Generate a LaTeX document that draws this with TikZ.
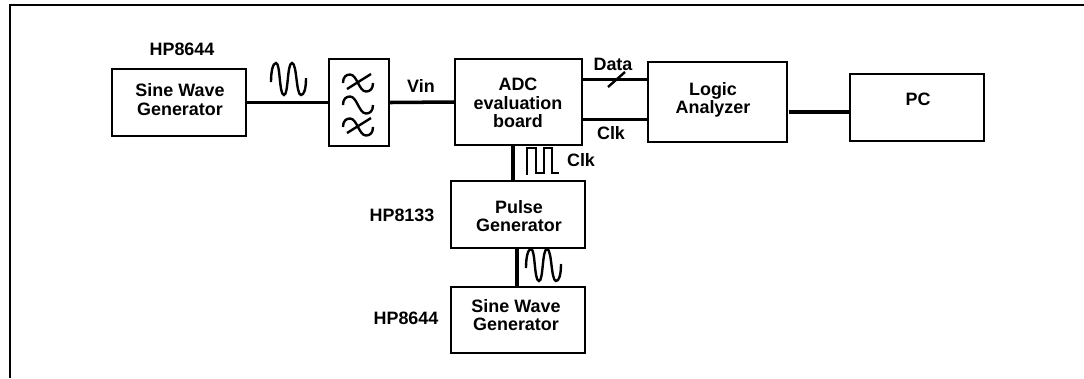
\documentclass[tikz,border=0pt]{standalone}
\usepackage{fontspec}
\setmainfont{Liberation Sans}
\tikzset{
    blockbox/.style 2 args={draw,line width=1.7pt,minimum width=#1*0.025cm,minimum height=#2*0.025cm,inner sep=0pt},
    blocktext/.style={align=center,inner sep=0pt,font=\fontsize{12.75}{13.1}\selectfont\bfseries},
    wirelink/.style={line width=2.5pt,shorten <=-1pt,shorten >=-1pt},
    thinsym/.style={line width=1.7pt},
    sinesym/.pic={
        \draw[thinsym] (0,1) .. controls (0,-10) and (2,-18) .. (5,-18) .. controls (9.5,-18) and (8,14) .. (13,14) .. controls (17.5,14) and (16,-18) .. (21,-18) .. controls (26,-18) and (25,14) .. (30,14) .. controls (33,14) and (35,8) .. (35,-3);
    },
    tildesym/.pic={
        \draw[thinsym] (-15,0) .. controls (-15,-6) and (-12,-8.5) .. (-8,-8.5) .. controls (-1,-8.5) and (1,8.5) .. (8,8.5) .. controls (12,8.5) and (15,6) .. (15,0);
    },
    notchsym/.pic={
        \pic {tildesym};
        \draw[thinsym] (-11,6) -- (13,-9);
    }
}
\begin{document}
\begin{tikzpicture}[x=0.025cm,y=-0.025cm]
    \useasboundingbox (0,0) rectangle (1084,378);
    \draw[line width=1.7pt] (10,378)--(10,5)--(1084,5);

    \node[blockbox={134}{67}] (sinea) at (179,102.5) {};
    \node[blockbox={60}{87}] (filterbox) at (359,102.5) {};
    \node[blockbox={127}{86}] (adc) at (518.5,102) {};
    \node[blockbox={139}{80}] (logic) at (717.5,102) {};
    \node[blockbox={134}{67}] (pc) at (917,107.5) {};
    \node[blockbox={134}{67}] (pulse) at (518,214.5) {};
    \node[blockbox={134}{66}] (sineb) at (518,320) {};

    \node[blocktext] (sineatext) at (180,99.5) {Sine Wave\\Generator};
    \node[blocktext] (adctext) at (518,103) {ADC\\evaluation\\board};
    \node[blocktext] (logictext) at (713,100) {Logic\\Analyzer};
    \node[blocktext] (pctext) at (918,99) {PC};
    \node[blocktext] (pulsetext) at (519,216) {Pulse\\Generator};
    \node[blocktext] (sinebtext) at (516,315) {Sine Wave\\Generator};
    \node[blocktext] (hpa) at (182,49) {HP8644};
    \node[blocktext] (hpb) at (402,215) {HP8133};
    \node[blocktext] (hpc) at (406,318) {HP8644};
    \node[blocktext] (vin) at (421,86) {Vin};
    \node[blocktext] (datatext) at (613,64) {Data};
    \node[blocktext] (clka) at (611,133) {Clk};
    \node[blocktext] (clkb) at (581,160) {Clk};

    \coordinate (datawire) at (615,79.5);
    \coordinate (clkwire) at (615,119.5);
    \coordinate (pcwire) at (790,112);
    \coordinate (pulsewire) at (513,165);
    \coordinate (sinewire) at (517,268);

    \draw[wirelink] (sinea.east)--(filterbox.west);
    \draw[wirelink] (filterbox.east)--(adc.west);
    \draw[wirelink] (adc.east |- datawire)--(logic.west |- datawire);
    \draw[wirelink] (adc.east |- clkwire)--(logic.west |- clkwire);
    \draw[wirelink] (pcwire)--(pc.west |- pcwire);
    \draw[wirelink] (adc.south -| pulsewire)--(pulse.north -| pulsewire);
    \draw[wirelink] (pulse.south -| sinewire)--(sineb.north -| sinewire);

    \draw[thinsym] (608,87)--(625,72);
    \pic at (271,81) {sinesym};
    \pic at (526,267) {sinesym};
    \pic at (358,83) {notchsym};
    \pic at (358,105) {tildesym};
    \pic at (358,127) {notchsym};
    \draw[thinsym] (527,175)--(527,148)--(536,148)--(536,173)--(544,173)--(544,148)--(552,148)--(552,173)--(559,173);
\end{tikzpicture}
\end{document}
